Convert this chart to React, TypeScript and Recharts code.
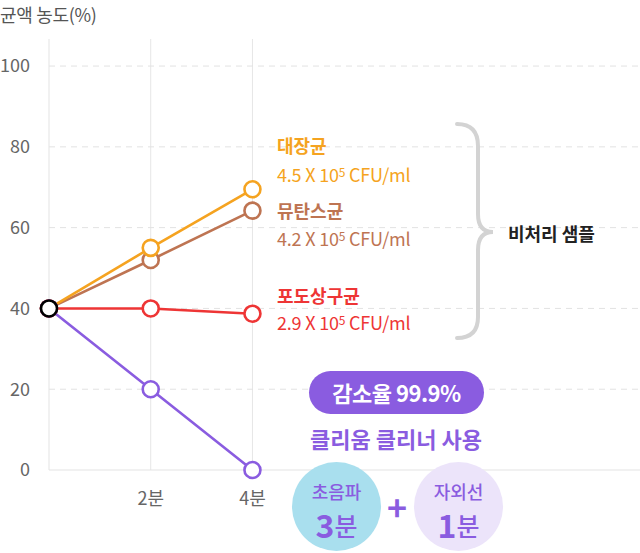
import React from 'react';
import { LineChart, Line, XAxis, YAxis, ReferenceLine } from 'recharts';

const times = [0, 2, 4];
const ecoli = [40, 55, 69.5];
const mutans = [40, 52, 64.2];
const staph = [40, 40, 38.7];
const treated = [40, 20, 0];
const origin = [40, null, null];
const yTicks = [0, 20, 40, 60, 80, 100];
const gridY = [20, 40, 60, 80, 100];
const gridX = [2, 4];
const xTicks = [0, 2, 4];

const data = times.map((t, i) => ({
  t,
  ecoli: ecoli[i],
  mutans: mutans[i],
  staph: staph[i],
  treated: treated[i],
  origin: origin[i],
}));

const FONT = '"Noto Sans CJK KR", "Noto Sans", sans-serif';
const ORANGE = '#F5A320';
const BROWN = '#BE7452';
const RED = '#EE3535';
const PURPLE = '#8A5CE0';

const dotStyle = (color: string) => ({ r: 8, fill: '#fff', stroke: color, strokeWidth: 2.6 });

const Cfu = ({ v, color, top }: { v: string; color: string; top: number }) => (
  <div
    style={{
      position: 'absolute',
      left: 277,
      top,
      fontSize: 18,
      lineHeight: '22px',
      color,
      letterSpacing: -0.2,
      whiteSpace: 'nowrap',
    }}
  >
    {v} X 10<sup style={{ fontSize: 12, verticalAlign: 'top', position: 'relative', top: -2 }}>5</sup> CFU/ml
  </div>
);

const Label = ({ text, color, top }: { text: string; color: string; top: number }) => (
  <div
    style={{
      position: 'absolute',
      left: 277,
      top,
      fontSize: 18,
      lineHeight: '22px',
      fontWeight: 700,
      color,
      whiteSpace: 'nowrap',
    }}
  >
    {text}
  </div>
);

const Bubble = ({ left, bg, title, num }: { left: number; bg: string; title: string; num: string }) => (
  <div
    style={{
      position: 'absolute',
      left,
      top: 462,
      width: 89,
      height: 89,
      borderRadius: '50%',
      background: bg,
      color: PURPLE,
      textAlign: 'center',
    }}
  >
    <div style={{ position: 'absolute', left: 0, width: 89, top: 19, height: 20, fontSize: 18, fontWeight: 500, lineHeight: '20px' }}>
      {title}
    </div>
    <div style={{ position: 'absolute', left: 0, width: 89, top: 45, height: 34, lineHeight: '34px', whiteSpace: 'nowrap' }}>
      <span style={{ display: 'inline-block', height: 34, lineHeight: '34px', fontSize: 32, fontWeight: 700, verticalAlign: 'top' }}>{num}</span>
      <span style={{ display: 'inline-block', height: 34, lineHeight: '36px', fontSize: 25, fontWeight: 500, verticalAlign: 'top' }}>분</span>
    </div>
  </div>
);

export default function App() {
  return (
    <div style={{ position: 'absolute', left: 0, top: 0, width: 640, height: 553, fontFamily: FONT, overflow: 'hidden' }}>
      <LineChart width={640} height={553} data={data} margin={{ top: 39, right: 0, left: 0, bottom: 43 }}>
        {gridX.map((x) => (
          <ReferenceLine key={`x${x}`} x={x} stroke="#e6e6e6" strokeWidth={1} />
        ))}
        {gridY.map((y) => (
          <ReferenceLine key={`y${y}`} y={y} stroke="#e2e2e2" strokeDasharray="6 5" strokeWidth={1} />
        ))}
        <XAxis
          dataKey="t"
          type="number"
          domain={[0, 11.62]}
          ticks={xTicks}
          tickFormatter={(v: number) => (v === 0 ? '' : `${v}분`)}
          height={40}
          tickSize={0}
          tickMargin={22}
          axisLine={{ stroke: '#e3e3e3' }}
          tickLine={false}
          tick={{ fill: '#666', fontSize: 18, fontFamily: FONT }}
        />
        <YAxis
          type="number"
          domain={[0, 106.7]}
          ticks={yTicks}
          width={49}
          tickSize={0}
          tickMargin={19}
          axisLine={{ stroke: '#e3e3e3' }}
          tickLine={false}
          tick={{ fill: '#666', fontSize: 18, fontFamily: FONT }}
        />
        <Line dataKey="mutans" stroke={BROWN} strokeWidth={2.6} dot={dotStyle(BROWN)} isAnimationActive={false} />
        <Line dataKey="ecoli" stroke={ORANGE} strokeWidth={2.6} dot={dotStyle(ORANGE)} isAnimationActive={false} />
        <Line dataKey="staph" stroke={RED} strokeWidth={2.6} dot={dotStyle(RED)} isAnimationActive={false} />
        <Line dataKey="treated" stroke={PURPLE} strokeWidth={2.6} dot={dotStyle(PURPLE)} isAnimationActive={false} />
        <Line dataKey="origin" stroke="#000" strokeWidth={2.6} dot={dotStyle('#000')} isAnimationActive={false} />
      </LineChart>

      <div style={{ position: 'absolute', left: 0, top: 2, fontSize: 18, lineHeight: '24px', color: '#555', letterSpacing: -0.3 }}>
        균액 농도(%)
      </div>

      <Label text="대장균" color={ORANGE} top={134} />
      <Cfu v="4.5" color={ORANGE} top={163} />
      <Label text="뮤탄스균" color={BROWN} top={199} />
      <Cfu v="4.2" color={BROWN} top={227} />
      <Label text="포도상구균" color={RED} top={284} />
      <Cfu v="2.9" color={RED} top={311} />

      <svg style={{ position: 'absolute', left: 0, top: 0 }} width={640} height={553}>
        <path
          d="M457,124 Q478,124 478,146 L478,214 Q478,232 493,232 Q478,232 478,250 L478,317 Q478,338 457,338"
          fill="none"
          stroke="#d3d3d3"
          strokeWidth={4}
          strokeLinecap="round"
        />
      </svg>
      <div style={{ position: 'absolute', left: 508, top: 221, fontSize: 18, lineHeight: '24px', fontWeight: 700, color: '#222' }}>
        비처리 샘플
      </div>

      <div
        style={{
          position: 'absolute',
          left: 309,
          top: 371,
          width: 175,
          height: 43,
          borderRadius: 22,
          background: PURPLE,
          color: '#fff',
          fontSize: 22,
          fontWeight: 700,
          lineHeight: '43px',
          textAlign: 'center',
          letterSpacing: -0.5,
        }}
      >
        감소율 99.9%
      </div>
      <div
        style={{
          position: 'absolute',
          left: 286,
          top: 424,
          width: 220,
          fontSize: 22,
          fontWeight: 700,
          lineHeight: '28px',
          textAlign: 'center',
          color: PURPLE,
        }}
      >
        클리움 클리너 사용
      </div>

      <Bubble left={292} bg="#A9DFEE" title="초음파" num="3" />
      <div
        style={{
          position: 'absolute',
          left: 382,
          top: 489,
          width: 30,
          textAlign: 'center',
          fontSize: 34,
          fontWeight: 700,
          lineHeight: '36px',
          color: PURPLE,
        }}
      >
        +
      </div>
      <Bubble left={414} bg="#ECE4FA" title="자외선" num="1" />
    </div>
  );
}
